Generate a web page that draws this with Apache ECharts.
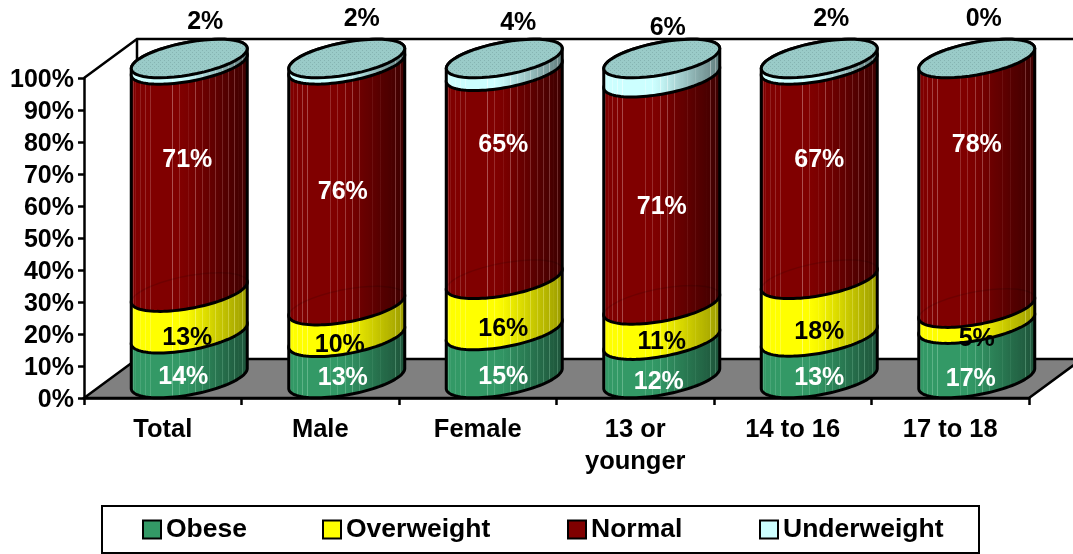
<!DOCTYPE html>
<html>
<head>
<meta charset="utf-8">
<style>
  html, body { margin: 0; padding: 0; background: #fff; }
  #chart { width: 1073px; height: 554px; }
</style>
<script src="https://cdn.jsdelivr.net/npm/echarts@6/dist/echarts.min.js"></script>
</head>
<body>
<div id="chart"></div>
<script>
var categories = ['Total', 'Male', 'Female', '13 or\nyounger', '14 to 16', '17 to 18']
var seriesNames = ['Obese', 'Overweight', 'Normal', 'Underweight']
var obese = [14, 13, 15, 12, 13, 17]
var overweight = [13, 10, 16, 11, 18, 5]
var normal = [71, 76, 65, 71, 67, 78]
var underweight = [2, 2, 4, 6, 2, 0]
var seriesValues = [obese, overweight, normal, underweight]
var yTicks = [0, 100, 10]

// 3d look, in pixels
var fontFamily = '"Liberation Sans", Arial, sans-serif'
var depthX = 53
var depthY = 39
var radius = 58
var skew = 10
var rim = 16.5
var lineWidth = 2.5
var edgeWidth = 3

// the original placed its data labels by hand, offsets per series then category
var labelNudges = [
  [[-6, 21], [-4, 20], [-1, 23], [-3, 23], [0, 20], [-6, 28]],
  [[-2, 25], [-7, 24], [-1, 24], [0, 20], [0, 24], [0, 23]],
  [[-2, -18], [-4, 7], [-1, -30], [0, 16], [0, -12], [0, -38]],
  [[16, -40], [15, -43], [14, -42], [6, -40], [12, -43], [7, -39]]
]
var labelColors = ['#fff', '#000', '#fff', '#000']
var swatches = ['#339966', '#ffff00', '#800000', '#ccffff']
var legendLefts = [142, 322, 567, 759]

// left, right and stripe colours of each body
var shades = [
  ['#339966', '#1d5239', '#8fd0ae'],
  ['#ffff00', '#9a9a00', '#ffffb0'],
  ['#800000', '#3c0000', '#d09090'],
  ['#ccffff', '#5f7a7a', '#ffffff']
]
// where the light facets fall across a cylinder, 0 to 1
var stripes = [0.03, 0.05, 0.087, 0.129, 0.171, 0.36, 0.42, 0.49, 0.55, 0.61, 0.67, 0.72, 0.78, 0.83, 0.88, 0.91, 0.95]
var stripeAmounts = [0.3, 0.15, 0.35, 0.45, 0.5, 0.55, 0.3, 0.4, 0.45, 0.3, 0.2, 0.3, 0.25, 0.3, 0.35, 0.35, 0.3]

function bodyShade(s, t) {
  return echarts.color.lerp(Math.max(0, (t - 0.45) / 0.55), [s[0], s[1]])
}

function bodyFill(s) {
  var stops = [{ offset: 0, color: s[0] }]
  stripes.forEach(function (t, i) {
    var base = bodyShade(s, t)
    var light = echarts.color.lerp(stripeAmounts[i], [base, s[2]])
    stops.push({ offset: t - 0.004, color: base })
    stops.push({ offset: t - 0.003, color: light })
    stops.push({ offset: t + 0.003, color: light })
    stops.push({ offset: t + 0.004, color: base })
  })
  stops.push({ offset: 1, color: s[1] })
  return new echarts.graphic.LinearGradient(0, 0, 1, 0, stops)
}

function dotPattern() {
  var c = document.createElement('canvas')
  c.width = 4
  c.height = 4
  var ctx = c.getContext('2d')
  ctx.fillStyle = '#9acbc8'
  ctx.fillRect(0, 0, 4, 4)
  ctx.fillStyle = '#86b4b2'
  ctx.fillRect(0, 0, 1, 1)
  ctx.fillRect(2, 2, 1, 1)
  return { image: c, repeat: 'repeat' }
}

var capFill = dotPattern()

function arc(cx, cy, from, to) {
  var pts = []
  for (var i = 0; i <= 48; i++) {
    var t = (from + (to - from) * i / 48) * Math.PI / 180
    pts.push([cx + radius * Math.cos(t), cy - skew * Math.cos(t) - rim * Math.sin(t)])
  }
  return pts
}

function renderFrame(params, api) {
  var g = params.coordSys
  var right = g.x + g.width
  var bottom = g.y + g.height
  var line = { fill: null, stroke: '#000', lineWidth: lineWidth }
  return {
    type: 'group',
    children: [
      {
        type: 'polygon',
        shape: { points: [[g.x, bottom], [g.x + depthX, bottom - depthY], [right + depthX, bottom - depthY], [right, bottom]] },
        style: { fill: '#808080', stroke: '#000', lineWidth: lineWidth }
      },
      {
        type: 'polyline',
        shape: { points: [[g.x, g.y], [g.x + depthX, g.y - depthY], [right + depthX, g.y - depthY]] },
        style: line
      },
      {
        type: 'line',
        shape: { x1: g.x + depthX, y1: g.y - depthY, x2: g.x + depthX, y2: bottom - depthY },
        style: line
      }
    ]
  }
}

function renderCylinder(params, api) {
  var s = params.seriesIndex - 1
  var i = api.value(0)
  var lo = api.coord([i, api.value(1)])
  var hi = api.coord([i, api.value(2)])
  var cx = lo[0] + depthX / 2
  var yLo = lo[1] - depthY / 2
  var yHi = hi[1] - depthY / 2
  var children = []
  if (api.value(3) > 0) {
    children.push({
      type: 'polygon',
      shape: { points: arc(cx, yLo, 180, 360).concat(arc(cx, yHi, 0, 180)) },
      style: { fill: bodyFill(shades[s]), stroke: '#000', lineWidth: edgeWidth, lineJoin: 'round' }
    })
  }
  if (s === 3) {
    children.push({
      type: 'polygon',
      z2: 5,
      shape: { points: arc(cx, yHi, 0, 360) },
      style: { fill: capFill, stroke: '#000', lineWidth: edgeWidth }
    })
  } else if (s === 1) {
    // the top rim of the yellow segment shows faintly through the red one
    children.push({
      type: 'polyline',
      z2: 5,
      shape: { points: arc(cx, yHi, 0, 180) },
      style: { fill: null, stroke: 'rgba(0,0,0,0.13)', lineWidth: 1.5 }
    })
  }
  var nudge = labelNudges[s][i]
  children.push({
    type: 'text',
    z2: 100,
    style: {
      text: api.value(3) + '%',
      x: cx + nudge[0],
      y: (yLo + yHi) / 2 + nudge[1],
      fontFamily: fontFamily,
      fontWeight: 'bold',
      fontSize: 25,
      fill: labelColors[s],
      align: 'center',
      verticalAlign: 'middle'
    }
  })
  return { type: 'group', children: children }
}

function stackData(s) {
  return categories.map(function (c, i) {
    var sum = 0
    var below = 0
    seriesValues.forEach(function (v, k) {
      sum += v[i]
      if (k < s) below += v[i]
    })
    return [i, below / sum * 100, (below + seriesValues[s][i]) / sum * 100, seriesValues[s][i]]
  })
}

var series = [{
  type: 'custom',
  name: 'frame',
  silent: true,
  clip: false,
  renderItem: renderFrame,
  data: [[0, 0]]
}]
seriesNames.forEach(function (name, s) {
  series.push({
    type: 'custom',
    name: name,
    silent: true,
    clip: false,
    renderItem: renderCylinder,
    itemStyle: { color: swatches[s] },
    encode: { x: 0, y: [1, 2] },
    data: stackData(s)
  })
})

var chart = echarts.init(document.getElementById('chart'), null, { renderer: 'canvas' })
chart.setOption({
  animation: false,
  backgroundColor: '#fff',
  grid: { left: 84, right: 44, top: 78, bottom: 156 },
  xAxis: {
    type: 'category',
    data: categories,
    axisLine: { lineStyle: { color: '#000', width: lineWidth } },
    axisTick: { show: true, length: 7, lineStyle: { color: '#000', width: lineWidth } },
    axisLabel: {
      color: '#000',
      fontFamily: fontFamily,
      fontWeight: 'bold',
      fontSize: 25.5,
      lineHeight: 32,
      margin: 16,
      interval: 0
    }
  },
  yAxis: {
    type: 'value',
    min: yTicks[0],
    max: yTicks[1],
    interval: yTicks[2],
    splitLine: { show: false },
    axisLine: { show: true, lineStyle: { color: '#000', width: lineWidth } },
    axisTick: { show: true, length: 6, lineStyle: { color: '#000', width: lineWidth } },
    axisLabel: {
      color: '#000',
      fontFamily: fontFamily,
      fontWeight: 'bold',
      fontSize: 25,
      margin: 10,
      verticalAlign: 'top',
      lineHeight: 4,
      formatter: '{value}%'
    }
  },
  legend: seriesNames.map(function (name, s) {
    return {
      left: legendLefts[s],
      top: 516,
      padding: 0,
      itemWidth: 18,
      itemHeight: 18,
      selectedMode: false,
      textStyle: {
        color: '#000',
        fontFamily: fontFamily,
        fontWeight: 'bold',
        fontSize: 26.5
      },
      data: [{
        name: name,
        icon: 'rect',
        itemStyle: { color: swatches[s], borderColor: '#000', borderWidth: 2 }
      }]
    }
  }),
  graphic: [{
    type: 'rect',
    silent: true,
    shape: { x: 102, y: 506, width: 877, height: 47 },
    style: { fill: null, stroke: '#000', lineWidth: 2 }
  }],
  series: series
})
</script>
</body>
</html>
